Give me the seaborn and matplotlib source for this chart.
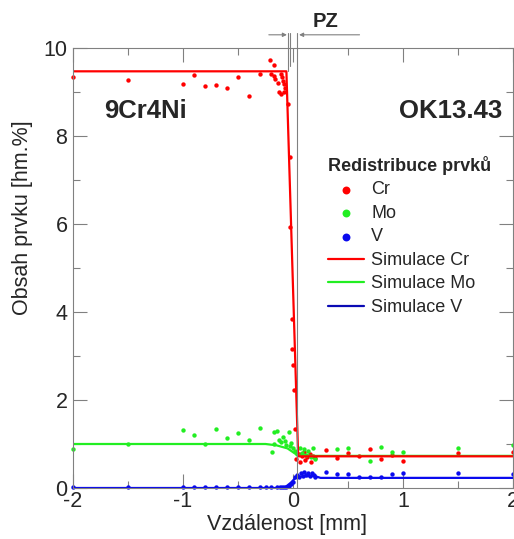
import numpy as np
import pandas as pd
import matplotlib
matplotlib.use("Agg")
import matplotlib.pyplot as plt
import seaborn as sns

# naměřené body (vzdálenost [mm], obsah [hm.%])
cr_x = [-2.0, -1.5, -1.0, -0.9, -0.8, -0.7, -0.6, -0.5, -0.4, -0.3, -0.21, -0.17, -0.2, -0.17, -0.16,
        -0.14, -0.11, -0.1, -0.09, -0.08, -0.13, -0.11, -0.08, -0.07, -0.05, -0.03, -0.025, -0.012,
        -0.012, 0.0, 0.01, 0.02, 0.03, 0.05, 0.06, 0.08, 0.1, 0.11, 0.13, 0.15, 0.16, 0.18, 0.2,
        0.3, 0.4, 0.5, 0.6, 0.7, 0.8, 0.9, 1.0, 1.5, 2.0]
cr_y = [9.33, 9.27, 9.18, 9.39, 9.13, 9.15, 9.08, 9.34, 8.9, 9.42, 9.72, 9.61, 9.42, 9.36, 9.29,
        9.21, 9.4, 9.33, 9.25, 9.18, 8.99, 8.95, 8.99, 9.1, 8.72, 7.53, 5.94, 3.85,
        3.17, 2.79, 2.22, 1.35, 0.65, 0.78, 0.6, 0.72, 0.82, 0.63, 0.7, 0.77, 0.58, 0.72, 0.68,
        0.86, 0.69, 0.79, 0.73, 0.88, 0.67, 0.75, 0.61, 0.79, 0.82]
mo_x = [-2.0, -1.5, -1.0, -0.9, -0.8, -0.7, -0.6, -0.5, -0.4, -0.3, -0.19, -0.17, -0.17, -0.15,
        -0.13, -0.11, -0.09, -0.07, -0.06, -0.04, -0.03, -0.02, 0.0, 0.02, 0.04, 0.06, 0.08, 0.1,
        0.12, 0.14, 0.16, 0.18, 0.2, 0.4, 0.5, 0.7, 0.8, 0.9, 1.0, 1.5, 2.0]
mo_y = [0.88, 1.01, 1.32, 1.2, 1.01, 1.33, 1.14, 1.26, 1.09, 1.37, 0.82, 1.01, 1.28, 1.3,
        1.1, 1.05, 1.15, 1.07, 0.98, 1.28, 0.95, 1.02, 0.9, 0.85, 0.78, 0.92, 0.8, 0.88,
        0.75, 0.85, 0.7, 0.9, 0.65, 0.88, 0.92, 0.62, 0.94, 0.82, 0.82, 0.92, 0.97]
v_x = [-2.0, -1.5, -1.0, -0.9, -0.8, -0.7, -0.6, -0.5, -0.4, -0.3, -0.25, -0.2, -0.15, -0.12,
       -0.1, -0.08, -0.06, -0.04, -0.02, 0.0, 0.02, 0.04, 0.05, 0.07, 0.09, 0.1, 0.12, 0.14,
       0.15, 0.17, 0.19, 0.2, 0.3, 0.4, 0.5, 0.6, 0.7, 0.8, 0.9, 1.0, 1.5, 2.0]
v_y = [0.02, 0.02, 0.02, 0.02, 0.02, 0.02, 0.02, 0.02, 0.02, 0.02, 0.02, 0.02, 0.02, 0.02,
       0.02, 0.02, 0.03, 0.05, 0.1, 0.14, 0.26, 0.3, 0.24, 0.33, 0.28, 0.36, 0.3, 0.34,
       0.27, 0.33, 0.3, 0.26, 0.37, 0.32, 0.32, 0.25, 0.26, 0.25, 0.32, 0.34, 0.34, 0.32]

# simulace
sim_cr_x = [-2.0, -0.06, 0.047, 0.1, 2.0]
sim_cr_y = [9.47, 9.47, 0.72, 0.72, 0.72]
sim_mo_x = [-2.0, -0.25, -0.15, -0.05, 0.02, 0.05, 0.2, 2.0]
sim_mo_y = [1.0, 1.0, 0.97, 0.9, 0.78, 0.74, 0.73, 0.73]
sim_v_x = [-2.0, -0.08, -0.02, 0.03, 0.1, 0.2, 0.25, 2.0]
sim_v_y = [0.0, 0.0, 0.12, 0.25, 0.27, 0.27, 0.23, 0.23]

red, green, blue, navy = "#ff0000", "#22ee22", "#0a0aee", "#0a0ab4"

sns.set_style("ticks")
plt.rcParams["font.family"] = ["Liberation Sans", "DejaVu Sans"]
plt.rcParams["axes.unicode_minus"] = False

fig = plt.figure(figsize=(5.14, 5.39), dpi=100)
ax = fig.add_axes([73 / 514, 51 / 539, 440 / 514, 440 / 539])

# simulace - čáry
sns.lineplot(x=sim_mo_x, y=sim_mo_y, color=green, lw=1.6, label="Simulace Mo", ax=ax, sort=False)
sns.lineplot(x=sim_v_x, y=sim_v_y, color=blue, lw=1.6, label="Simulace V", ax=ax, sort=False)
sns.lineplot(x=sim_cr_x, y=sim_cr_y, color=red, lw=1.6, label="Simulace Cr", ax=ax, sort=False)

# body
kw = dict(s=10, marker="o", linewidth=0, ax=ax, clip_on=False)
sns.scatterplot(x=cr_x, y=cr_y, color=red, label="Cr", **kw)
sns.scatterplot(x=mo_x, y=mo_y, color=green, label="Mo", **kw)
sns.scatterplot(x=v_x, y=v_y, color=blue, label="V", **kw)

ax.set_xlim(-2, 2)
ax.set_ylim(0, 10)
ax.set_xticks([-2, -1, 0, 1, 2])
ax.set_xticks(np.arange(-2, 2.01, 0.5), minor=True)
ax.set_yticks([0, 2, 4, 6, 8, 10])
ax.set_yticks(range(0, 11), minor=True)
ax.tick_params(which="both", direction="in", top=True, right=True, color="#808080",
               width=0.8, labelsize=15.5)
ax.tick_params(axis="x", pad=2)
ax.tick_params(axis="y", pad=4)
ax.tick_params(which="major", length=10)
ax.tick_params(which="minor", length=5)
for sp in ax.spines.values():
    sp.set_color("#808080")
    sp.set_linewidth(0.8)

ax.set_xlabel("Vzdálenost [mm]", fontsize=15.5)
ax.set_ylabel("Obsah prvku [hm.%]", fontsize=15.5)
ax.xaxis.set_label_coords(0.486, -0.058)
ax.yaxis.set_label_coords(-0.092, 0.614)

# přechodová zóna PZ
gray = "#808080"
ax.plot([-0.045, -0.045], [9.47, 10.35], color=gray, lw=0.8, clip_on=False)
ax.plot([-0.025, -0.025], [9.6, 10.35], color=gray, lw=0.8, clip_on=False)
ax.plot([0.04, 0.04], [0, 10.35], color=gray, lw=0.8, clip_on=False)
ax.annotate("", xy=(-0.03, 10.3), xytext=(-0.245, 10.3), annotation_clip=False,
            arrowprops=dict(arrowstyle="-|>", color=gray, lw=0.8, mutation_scale=6))
ax.annotate("", xy=(0.03, 10.3), xytext=(0.63, 10.3), annotation_clip=False,
            arrowprops=dict(arrowstyle="-|>", color=gray, lw=0.8, mutation_scale=6))
ax.text(0.3, 10.38, "PZ", fontsize=14.5, fontweight="bold", ha="center", va="bottom")

ax.text(-1.72, 8.57, "9Cr4Ni", fontsize=18.5, fontweight="bold", ha="left", va="center")
ax.text(1.9, 8.57, "OK13.43", fontsize=18.5, fontweight="bold", ha="right", va="center")

h, l = ax.get_legend_handles_labels()
order = ["Cr", "Mo", "V", "Simulace Cr", "Simulace Mo", "Simulace V"]
hd = dict(zip(l, h))
leg = ax.legend([hd[k] for k in order], order, title="Redistribuce prvků",
                loc="upper left", bbox_to_anchor=(328 / 514, 1 - 156 / 539),
                bbox_transform=fig.transFigure, frameon=False, fontsize=13,
                title_fontproperties={"weight": "bold", "size": 13},
                markerscale=1.8, handlelength=2.0, handletextpad=0.4,
                labelspacing=0.36, borderpad=0, borderaxespad=0)
leg._legend_box.align = "left"
for t, c in zip(leg.legend_handles[3:], [red, green, navy]):
    t.set_color(c)

fig.savefig("out.png", dpi=100)
